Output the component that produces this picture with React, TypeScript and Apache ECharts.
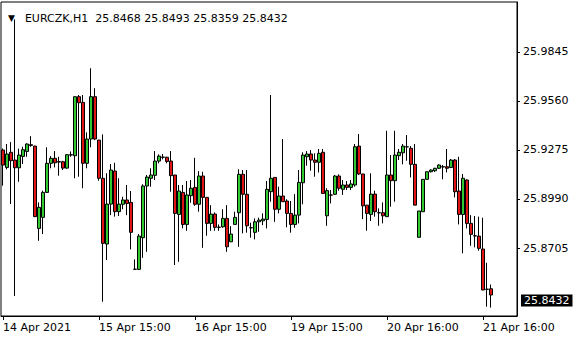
import React, { useEffect, useRef } from "react";
import * as echarts from "echarts";

const symbol = "EURCZK,H1";

const opens = [
  25.9274, 25.9173, 25.9261, 25.9216, 25.9171, 25.9237, 25.9266, 25.9305, 25.9297, 25.8819,
  25.8883, 25.9028, 25.9197, 25.9226, 25.9207, 25.9206, 25.9169, 25.9245, 25.9241, 25.9584,
  25.9551, 25.9197, 25.9338, 25.9584, 25.9332, 25.9110, 25.8728, 25.8960, 25.9152, 25.8916,
  25.8959, 25.8984, 25.8970, 25.8581, 25.8581, 25.8765, 25.9065, 25.9110, 25.9127, 25.9210,
  25.9233, 25.9232, 25.9210, 25.9129, 25.8900, 25.9028, 25.8842, 25.9009, 25.9057, 25.8959,
  25.9123, 25.8999, 25.8848, 25.8902, 25.8825, 25.8828, 25.8877, 25.8741, 25.8842, 25.8910,
  25.9133, 25.9017, 25.8823, 25.8796, 25.8857, 25.8863, 25.8871, 25.9032, 25.9115, 25.8930,
  25.9007, 25.8978, 25.8906, 25.8842, 25.8896, 25.9084, 25.9235, 25.9251, 25.9216, 25.9203,
  25.9261, 25.8892, 25.9013, 25.9017, 25.9123, 25.9046, 25.9071, 25.9057, 25.9071, 25.9297,
  25.9135, 25.8954, 25.8900, 25.9018, 25.8910, 25.8910, 25.8887, 25.9129, 25.9096, 25.9241,
  25.9258, 25.9293, 25.9284, 25.9191, 25.8767, 25.8916, 25.9104, 25.9148, 25.9154, 25.9168,
  25.9177, 25.9177, 25.9173, 25.9216, 25.9036, 25.8900, 25.9100, 25.8848, 25.8776, 25.8774,
  25.8699, 25.8465, 25.8468,
];
const highs = [
  25.9283, 25.9309, 25.9320, 26.0033, 25.9282, 25.9293, 25.9313, 25.9355, 25.9299, 25.8970,
  25.9038, 25.9290, 25.9239, 25.9268, 25.9235, 25.9212, 25.9251, 25.9266, 25.9584, 25.9594,
  25.9594, 25.9377, 25.9749, 25.9633, 25.9332, 25.9365, 25.9139, 25.9193, 25.9200, 25.9110,
  25.9003, 25.9071, 25.9036, 25.8639, 25.8786, 25.9075, 25.9129, 25.9168, 25.9268, 25.9249,
  25.9251, 25.9235, 25.9268, 25.9129, 25.9071, 25.9071, 25.9094, 25.9100, 25.9229, 25.9152,
  25.9148, 25.8999, 25.8954, 25.8912, 25.8842, 25.8930, 25.8954, 25.8832, 25.8916, 25.9162,
  25.9158, 25.9158, 25.8852, 25.8877, 25.8881, 25.8906, 25.9094, 25.9594, 25.9115, 25.9061,
  25.9338, 25.8988, 25.8978, 25.9018, 25.9158, 25.9261, 25.9268, 25.9274, 25.9255, 25.9280,
  25.9280, 25.9052, 25.9042, 25.9129, 25.9133, 25.9100, 25.9094, 25.9100, 25.9309, 25.9367,
  25.9135, 25.8954, 25.9139, 25.9038, 25.8935, 25.8970, 25.9386, 25.9245, 25.9386, 25.9280,
  25.9309, 25.9361, 25.9297, 25.9309, 25.8920, 25.9104, 25.9148, 25.9162, 25.9171, 25.9191,
  25.9187, 25.9280, 25.9222, 25.9222, 25.9235, 25.9135, 25.9104, 25.8896, 25.8891, 25.8887,
  25.8881, 25.8619, 25.8493,
];
const lows = [
  25.9067, 25.9162, 25.8960, 25.8426, 25.9090, 25.9193, 25.9235, 25.9293, 25.8885, 25.8747,
  25.8786, 25.9026, 25.9168, 25.9173, 25.9125, 25.9158, 25.9165, 25.9235, 25.9110, 25.9119,
  25.9052, 25.9168, 25.9290, 25.9332, 25.9096, 25.8393, 25.8635, 25.8896, 25.8887, 25.8891,
  25.8930, 25.8896, 25.8697, 25.8581, 25.8577, 25.8648, 25.8683, 25.9061, 25.9100, 25.9197,
  25.9220, 25.9197, 25.9032, 25.8606, 25.8625, 25.8819, 25.8805, 25.8968, 25.8950, 25.8916,
  25.8706, 25.8776, 25.8805, 25.8805, 25.8805, 25.8823, 25.8683, 25.8741, 25.8842, 25.8712,
  25.8790, 25.8794, 25.8765, 25.8755, 25.8799, 25.8838, 25.8819, 25.8974, 25.8857, 25.8906,
  25.8972, 25.8825, 25.8794, 25.8823, 25.8848, 25.8959, 25.9183, 25.9154, 25.9119, 25.9144,
  25.9022, 25.8834, 25.8964, 25.9013, 25.9038, 25.9013, 25.9042, 25.9042, 25.9061, 25.9129,
  25.8873, 25.8805, 25.8862, 25.8887, 25.8834, 25.8848, 25.8887, 25.8945, 25.8974, 25.9216,
  25.9191, 25.9212, 25.9115, 25.8954, 25.8767, 25.8916, 25.9104, 25.9144, 25.9146, 25.9164,
  25.9104, 25.9144, 25.9169, 25.8999, 25.8842, 25.8674, 25.8819, 25.8718, 25.8709, 25.8689,
  25.8461, 25.8364, 25.8359,
];
const closes = [
  25.9187, 25.9251, 25.9212, 25.9171, 25.9245, 25.9276, 25.9309, 25.9301, 25.8887, 25.8941,
  25.9028, 25.9197, 25.9226, 25.9200, 25.9204, 25.9169, 25.9247, 25.9247, 25.9584, 25.9549,
  25.9197, 25.9338, 25.9584, 25.9338, 25.9110, 25.8732, 25.8960, 25.9158, 25.8916, 25.8960,
  25.8984, 25.8964, 25.8796, 25.8582, 25.8774, 25.9065, 25.9117, 25.9129, 25.9210, 25.9239,
  25.9232, 25.9208, 25.9125, 25.8906, 25.9036, 25.8842, 25.9013, 25.9052, 25.8959, 25.9123,
  25.8999, 25.8848, 25.8902, 25.8825, 25.8826, 25.8877, 25.8712, 25.8786, 25.8883, 25.9133,
  25.9017, 25.8834, 25.8822, 25.8857, 25.8867, 25.8873, 25.9046, 25.9110, 25.8930, 25.9007,
  25.8974, 25.8906, 25.8842, 25.8896, 25.9086, 25.9245, 25.9251, 25.9216, 25.9203, 25.9255,
  25.9022, 25.9038, 25.9012, 25.9123, 25.9052, 25.9071, 25.9057, 25.9077, 25.9293, 25.9135,
  25.8950, 25.8906, 25.9018, 25.8916, 25.8909, 25.8892, 25.9129, 25.9096, 25.9245, 25.9261,
  25.9297, 25.9292, 25.9191, 25.8954, 25.8920, 25.9104, 25.9148, 25.9158, 25.9168, 25.9187,
  25.9176, 25.9168, 25.9216, 25.9032, 25.8900, 25.9110, 25.8848, 25.8784, 25.8775, 25.8703,
  25.8461, 25.8466, 25.8432,
];

const yTicks = [25.8705, 25.899, 25.9275, 25.956, 25.9845];
const xTickIndex = [0, 24, 48, 72, 96, 120];
const xTickLabels = [
  "14 Apr 2021",
  "15 Apr 15:00",
  "16 Apr 15:00",
  "19 Apr 15:00",
  "20 Apr 16:00",
  "21 Apr 16:00",
];
const emptySlots = 6;
const yMin = 25.831;
const yMax = 26.0134;

export default function App() {
  const ref = useRef<HTMLDivElement>(null);
  useEffect(() => {
    const chart = echarts.init(ref.current!, null, { renderer: "svg" });
    const n = opens.length;
    const last = n - 1;
    const categories = Array.from({ length: n + emptySlots }, (_, i) => String(i));
    const data = opens.map((o, i) => [o, closes[i], lows[i], highs[i]]);
    const font = "DejaVu Sans";
    const header = `${symbol}  ${opens[last].toFixed(4)} ${highs[last].toFixed(4)} ${lows[last].toFixed(4)} ${closes[last].toFixed(4)}`;
    const showTick = (i: number) => xTickIndex.indexOf(i) >= 0;
    chart.setOption({
      animation: false,
      backgroundColor: "#fff",
      title: {
        text: `{tri|▼}  {t|${header}}`,
        left: 3,
        top: 4,
        textStyle: {
          fontWeight: "normal",
          rich: {
            tri: { fontSize: 9, color: "#000", fontFamily: font, fontWeight: "normal" },
            t: { fontSize: 11, color: "#000", fontFamily: font, fontWeight: "normal" },
          },
        },
      },
      grid: {
        left: 1,
        right: 63,
        top: 2,
        bottom: 24,
        show: true,
        borderColor: "#000",
        borderWidth: 1,
      },
      xAxis: {
        type: "category",
        data: categories,
        boundaryGap: true,
        axisLine: { show: true, lineStyle: { color: "#000", width: 1 } },
        axisTick: {
          show: true,
          alignWithLabel: true,
          interval: (i: number) => showTick(i),
          length: 4,
          lineStyle: { color: "#000" },
        },
        axisLabel: {
          interval: (i: number) => showTick(i),
          formatter: (_v: string, i: number) => xTickLabels[xTickIndex.indexOf(i)] ?? "",
          align: "left",
          margin: 6,
          color: "#000",
          fontFamily: font,
          fontSize: 11,
        },
        splitLine: { show: false },
      },
      yAxis: {
        type: "value",
        position: "right",
        min: yMin,
        max: yMax,
        scale: true,
        axisLine: { show: true, lineStyle: { color: "#000", width: 1 } },
        axisTick: { show: true, customValues: yTicks, length: 3, lineStyle: { color: "#000" } },
        axisLabel: {
          customValues: yTicks,
          formatter: (v: number) => v.toFixed(4),
          margin: 6,
          color: "#000",
          fontFamily: font,
          fontSize: 11,
        },
        splitLine: { show: false },
      },
      series: [
        {
          type: "candlestick",
          data,
          barWidth: 3,
          clip: false,
          itemStyle: {
            color: "#32c832",
            color0: "#e01414",
            borderColor: "#000",
            borderColor0: "#000",
            borderColorDoji: "#000",
            borderWidth: 1,
          },
          markLine: {
            silent: true,
            symbol: ["none", "none"],
            data: [{ yAxis: closes[last] }],
            lineStyle: { color: "rgba(0,0,0,0)", width: 1, type: "solid" },
            label: {
              show: true,
              position: "end",
              formatter: () => closes[last].toFixed(4),
              backgroundColor: "#000",
              color: "#fff",
              padding: [1, 3, 0, 3],
              distance: 4,
              fontFamily: font,
              fontSize: 11,
            },
          },
        },
      ],
    });
    return () => chart.dispose();
  }, []);
  return (
    <div
      ref={ref}
      style={{ position: "fixed", left: 0, top: 0, width: 580, height: 340 }}
    />
  );
}
